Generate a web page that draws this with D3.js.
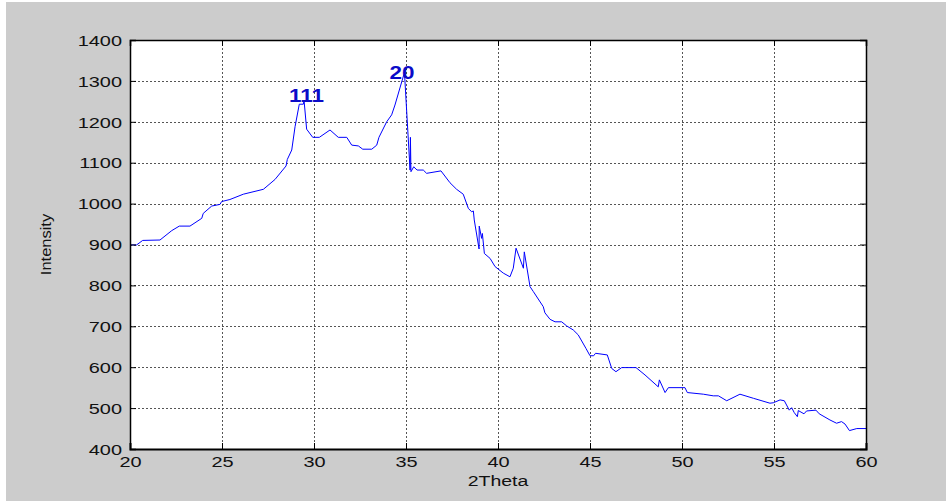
<!DOCTYPE html>
<html>
<head>
<meta charset="utf-8">
<script src="https://cdn.jsdelivr.net/npm/d3@7"></script>
<style>
html,body{margin:0;padding:0;background:#fff;}
svg{display:block;}
text{font-family:"Liberation Sans",Arial,Helvetica,sans-serif;}
</style>
</head>
<body>
<svg id="chart" width="946" height="501"></svg>
<script>
const twoTheta = [20, 20.36, 20.69, 21.63, 22.27, 22.68, 23.26, 23.9, 23.98, 24.44, 24.89, 24.98, 25.43, 26.16, 27.25, 27.88, 28.48, 28.55, 28.79, 28.97, 29.2, 29.42, 29.46, 29.6, 29.93, 30.29, 30.87, 31.32, 31.78, 32.05, 32.41, 32.65, 33.14, 33.41, 33.53, 33.95, 34.22, 34.4, 34.86, 34.92, 35.22, 35.24, 35.27, 35.42, 35.6, 35.94, 36.12, 36.9, 37.39, 37.75, 38.11, 38.39, 38.57, 38.66, 38.71, 38.97, 38.98, 39.11, 39.15, 39.26, 39.57, 39.84, 40.29, 40.65, 40.83, 40.98, 41.38, 41.43, 41.74, 41.92, 42.46, 42.55, 42.83, 43.1, 43.46, 43.73, 44.09, 44.36, 44.78, 45.0, 45.2, 45.3, 45.94, 46.18, 46.41, 46.72, 47.5, 47.99, 48.71, 48.77, 49.08, 49.26, 50.16, 50.29, 51.16, 51.7, 51.98, 52.43, 53.15, 53.88, 54.78, 54.96, 55.33, 55.56, 55.83, 55.96, 56.1, 56.27, 56.32, 56.63, 56.77, 57.28, 57.46, 58.04, 58.4, 58.67, 58.86, 59.1, 59.5, 60];
const intensity = [899, 899, 910, 911, 934, 945, 945, 964, 976, 994, 998, 1005, 1010, 1023, 1035, 1059, 1092, 1108, 1131, 1188, 1243, 1243, 1252, 1182, 1162, 1162, 1180, 1162, 1162, 1143, 1141, 1133, 1133, 1143, 1162, 1200, 1217, 1241, 1312, 1318, 1082, 1162, 1078, 1090, 1082, 1082, 1074, 1080, 1051, 1035, 1023, 988, 980, 982, 960, 889, 945, 915, 927, 878, 866, 846, 830, 821, 842, 891, 842, 882, 797, 785, 748, 733, 717, 711, 711, 701, 691, 679, 646, 628, 628, 634, 630, 597, 589, 599, 599, 581, 552, 569, 538, 550, 550, 538, 534, 530, 530, 518, 534, 524, 512, 513, 520, 518, 495, 501, 489, 479, 494, 486, 493, 495, 486, 471, 463, 467, 461, 445, 450, 450];

const xTicks = [20, 25, 30, 35, 40, 45, 50, 55, 60];
const yTicks = [400, 500, 600, 700, 800, 900, 1000, 1100, 1200, 1300, 1400];
const peakLabels = ["111", "20"];
const peakX = [28.64, 34.1];
const peakY = [1248, 1304];
const xTitle = "2Theta";
const yTitle = "Intensity";

const svg = d3.select("#chart");
const W = 946, H = 501;
const plot = {left: 130, top: 40, right: 866, bottom: 449};
const fx = 1.33; // horizontal text stretch of the reference

svg.append("rect").attr("x", 6).attr("y", 2).attr("width", W - 6).attr("height", H - 2).attr("fill", "#cccccc");
svg.append("rect").attr("x", plot.left).attr("y", plot.top)
  .attr("width", plot.right - plot.left).attr("height", plot.bottom - plot.top).attr("fill", "#ffffff");

const x = d3.scaleLinear().domain([20, 60]).range([plot.left, plot.right]);
const y = d3.scaleLinear().domain([400, 1400]).range([plot.bottom, plot.top]);

const grid = svg.append("g").attr("stroke", "#555").attr("stroke-width", 1).attr("stroke-dasharray", "2,2");
grid.selectAll("line.v").data(xTicks.slice(1, -1)).join("line")
  .attr("x1", d => Math.round(x(d)) + 0.5).attr("x2", d => Math.round(x(d)) + 0.5)
  .attr("y1", plot.top).attr("y2", plot.bottom);
grid.selectAll("line.h").data(yTicks.slice(1, -1)).join("line")
  .attr("y1", d => Math.round(y(d)) + 0.5).attr("y2", d => Math.round(y(d)) + 0.5)
  .attr("x1", plot.left).attr("x2", plot.right);

svg.append("path")
  .datum(twoTheta.map((t, i) => [t, intensity[i]]))
  .attr("fill", "none").attr("stroke", "#0000ff").attr("stroke-width", 1)
  .attr("d", d3.line().x(d => x(d[0])).y(d => y(d[1])));

const tl = 6;
const xAxis = svg.append("g").attr("transform", `translate(0,${plot.bottom})`)
  .call(d3.axisBottom(x).tickValues(xTicks).tickSize(-tl).tickPadding(9).tickFormat(d3.format("d")));
const xAxisTop = svg.append("g").attr("transform", `translate(0,${plot.top})`)
  .call(d3.axisTop(x).tickValues(xTicks).tickSize(-tl).tickFormat(""));
const yAxis = svg.append("g").attr("transform", `translate(${plot.left},0)`)
  .call(d3.axisLeft(y).tickValues(yTicks).tickSize(-tl).tickPadding(8).tickFormat(d3.format("d")));
const yAxisR = svg.append("g").attr("transform", `translate(${plot.right},0)`)
  .call(d3.axisRight(y).tickValues(yTicks).tickSize(-tl).tickFormat(""));

[xAxis, xAxisTop, yAxis, yAxisR].forEach(g => {
  g.select(".domain").attr("stroke", "#000").attr("stroke-width", 1.5);
  g.selectAll(".tick line").attr("stroke", "#000");
});
xAxis.select(".domain").attr("stroke-width", 2);

xAxis.selectAll(".tick text")
  .attr("font-size", 15).attr("fill", "#111")
  .attr("y", 0).attr("dy", 0)
  .attr("transform", `translate(0,18) scale(${fx},1)`);
yAxis.selectAll(".tick text")
  .attr("font-size", 15).attr("fill", "#111")
  .attr("x", 0).attr("dy", "0.35em")
  .attr("transform", `translate(-8,0) scale(${fx},1)`);

svg.append("text").attr("font-size", 15).attr("fill", "#111").attr("text-anchor", "middle")
  .attr("transform", `translate(${(plot.left + plot.right) / 2},${486}) scale(${1.3},1)`).text(xTitle);
svg.append("text").attr("font-size", 15).attr("fill", "#111").attr("text-anchor", "middle")
  .attr("transform", `translate(${51},${(plot.top + plot.bottom) / 2}) rotate(-90) scale(1.1,1)`).text(yTitle);

svg.selectAll("text.peak").data(peakLabels).join("text").attr("class", "peak")
  .attr("font-size", 19).attr("font-weight", "bold").attr("fill", "#0b0bc8")
  .attr("transform", (d, i) => `translate(${x(peakX[i])},${y(peakY[i])}) scale(1.18,1)`)
  .text(d => d);
</script>
</body>
</html>
